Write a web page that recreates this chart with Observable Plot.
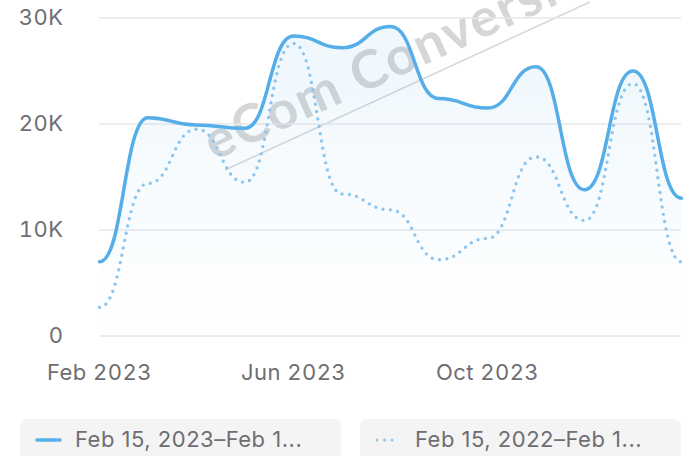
<!DOCTYPE html>
<html>
<head>
<meta charset="utf-8">
<script src="https://cdn.jsdelivr.net/npm/d3@7"></script>
<script src="https://cdn.jsdelivr.net/npm/@observablehq/plot@0.6"></script>
<style>
  html, body { margin: 0; padding: 0; background: #ffffff; }
  #wrap { position: relative; width: 693px; height: 456px; overflow: hidden; font-family: Inter, "Noto Sans", sans-serif; }
  #chart { position: absolute; left: 0; top: 0; }
  #wm { position: absolute; left: 0; top: 0; pointer-events: none; }
  .leg { position: absolute; top: 419px; width: 321px; height: 46px; background: #f4f4f5; border-radius: 7px; color: #6e6e73; font-size: 22px; letter-spacing: 0.5px; }
  .leg .txt { position: absolute; left: 55px; top: 7px; white-space: nowrap; }
  .leg svg { position: absolute; left: 0; top: 0; }
</style>
</head>
<body>
<div id="wrap">
  <svg id="wm" width="693" height="456"></svg>
  <div id="chart"></div>
  <div class="leg" id="leg1" style="left:20px"></div>
  <div class="leg" id="leg2" style="left:360px"></div>
</div>
<script>
const months = ["Feb 2023","Mar 2023","Apr 2023","May 2023","Jun 2023","Jul 2023","Aug 2023","Sep 2023","Oct 2023","Nov 2023","Dec 2023","Jan 2024","Feb 2024"];
const currentPeriod = [7000, 20600, 19900, 19600, 28300, 27200, 29200, 22400, 21500, 25400, 13800, 25000, 13000];
const previousPeriod = [2700, 14400, 19500, 14500, 27600, 13400, 11900, 7200, 9200, 16900, 10900, 23800, 7000];
const yTicks = [0, 10000, 20000, 30000];
const xTickIdx = [0, 4, 8];
const legendLabels = ["Feb 15, 2023–Feb 1...", "Feb 15, 2022–Feb 1..."];
const watermark = "eCom Conversion";

const lineBlue = "#56aee8";
const dotBlue = "#8dc5ec";

const data = months.map((m, i) => ({i, month: m, cur: currentPeriod[i], prev: previousPeriod[i]}));

const chart = Plot.plot({
  width: 693,
  height: 405,
  marginTop: 17.5,
  marginBottom: 69.5,
  marginLeft: 99,
  marginRight: 12,
  style: {fontFamily: "Inter, 'Noto Sans', sans-serif", fontSize: "22px", letterSpacing: "0.45px", color: "#6e6e73", background: "transparent", overflow: "visible"},
  x: {domain: [0, months.length - 1], ticks: xTickIdx, tickFormat: i => months[i], tickSize: 0, tickPadding: 28, label: null},
  y: {domain: [0, 30000], ticks: yTicks, tickFormat: d => d === 0 ? "0" : (d / 1000) + "K", tickSize: 0, tickPadding: 36, label: null},
  marks: [
    Plot.ruleY(yTicks, {stroke: "#e7e7ea", strokeWidth: 1.5}),
    Plot.areaY(data, {x: "i", y: "cur", curve: "bump-x", fill: "url(#fadeBlue)"}),
    Plot.lineY(data, {x: "i", y: "prev", curve: "bump-x", stroke: dotBlue, strokeWidth: 3.4, strokeDasharray: "0 7.4", strokeLinecap: "round"}),
    Plot.lineY(data, {x: "i", y: "cur", curve: "bump-x", stroke: lineBlue, strokeWidth: 3.5})
  ]
});

// gradient defs
const defs = d3.select(chart).insert("defs", ":first-child");
const g = defs.append("linearGradient").attr("id", "fadeBlue").attr("x1", 0).attr("y1", 0).attr("x2", 0).attr("y2", 1);
g.append("stop").attr("offset", "0%").attr("stop-color", lineBlue).attr("stop-opacity", 0.10);
g.append("stop").attr("offset", "100%").attr("stop-color", lineBlue).attr("stop-opacity", 0.0);

document.getElementById("chart").appendChild(chart);

// watermark (drawn beneath the chart lines)
const wm = d3.select("#wm");
wm.append("line").attr("x1", 225).attr("y1", 170).attr("x2", 590).attr("y2", 2)
  .attr("stroke", "#d8d8d8").attr("stroke-width", 1.6);
wm.append("text").text(watermark)
  .attr("transform", "translate(214,161) rotate(-24.5)")
  .attr("font-family", "Lato, 'Open Sans', sans-serif").attr("font-weight", 700)
  .attr("font-size", 53).attr("fill", "#d6d6d6").attr("letter-spacing", 2);

// legends
function legend(id, label, dotted) {
  const el = document.getElementById(id);
  const s = d3.select(el).append("svg").attr("width", 60).attr("height", 46);
  if (dotted) {
    s.append("line").attr("x1", 17).attr("x2", 36).attr("y1", 21).attr("y2", 21)
      .attr("stroke", dotBlue).attr("stroke-width", 3).attr("stroke-dasharray", "0 7.5").attr("stroke-linecap", "round");
  } else {
    s.append("line").attr("x1", 17).attr("x2", 40).attr("y1", 21).attr("y2", 21)
      .attr("stroke", lineBlue).attr("stroke-width", 3.5).attr("stroke-linecap", "round");
  }
  const t = document.createElement("div");
  t.className = "txt";
  t.textContent = label;
  el.appendChild(t);
}
legend("leg1", legendLabels[0], false);
legend("leg2", legendLabels[1], true);
</script>
</body>
</html>
